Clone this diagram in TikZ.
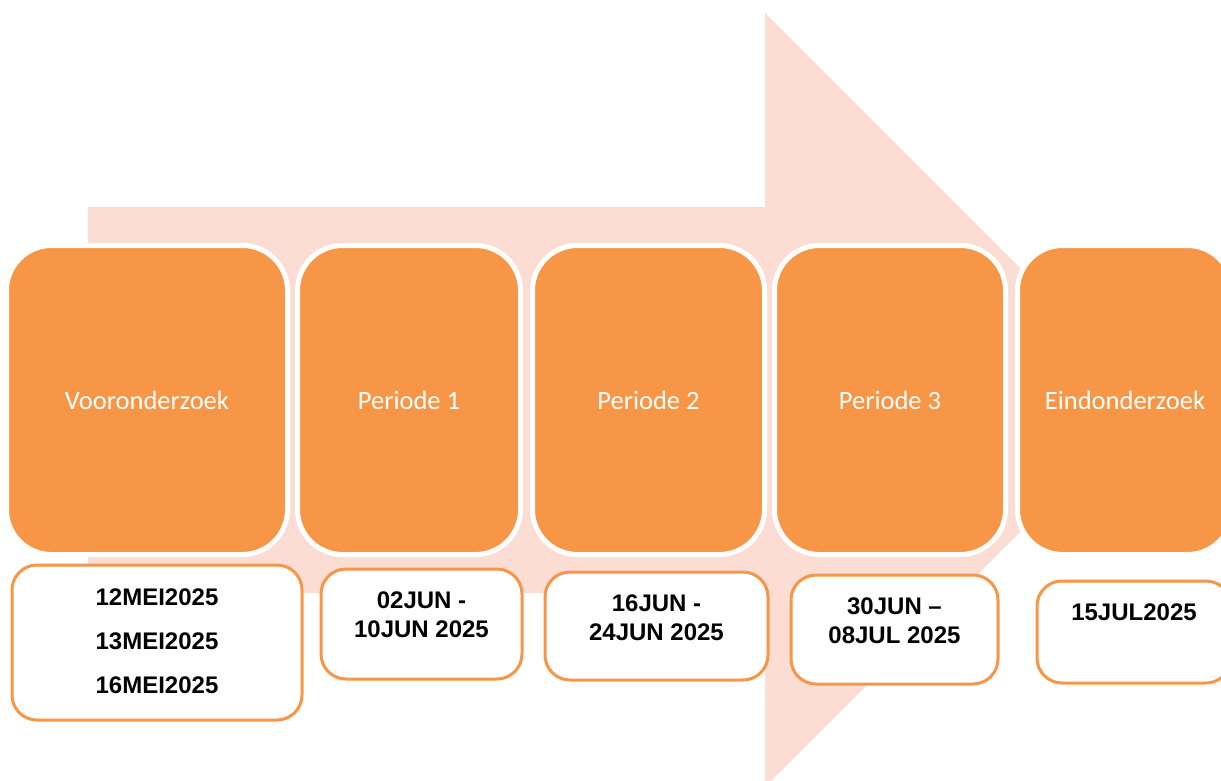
\documentclass[tikz,border=0pt]{standalone}
\usepackage{fontspec}
\newfontfamily\phasefont{Carlito}
\newfontfamily\datefont{Liberation Sans}
\usepackage{tikz}
\usetikzlibrary{positioning}

\definecolor{phaseorange}{HTML}{F79646}
\definecolor{arrowpink}{HTML}{FCDDD3}

\begin{document}
\begin{tikzpicture}[
            x=1pt, y=-1pt,
            phase node/.style={rectangle,rounded corners=45pt,fill=phaseorange,draw=white,line width=5pt,
                text=white,font=\phasefont\fontsize{26.5}{32}\selectfont,inner sep=0pt,minimum height=309pt},
            date node/.style={rectangle,rounded corners=25pt,fill=white,draw=phaseorange,line width=3pt,inner sep=0pt},
            date text/.style={align=center,inner sep=0pt,font=\datefont\bfseries\fontsize{24}{29}\selectfont},
            ]
            \useasboundingbox (0,0) rectangle (1221,780);
            \clip (0,0) rectangle (1221,780);

            % big arrow behind
            \fill[arrowpink] (88,207) -- (765,207) -- (765,13) -- (1152,400) -- (765,787) -- (765,593) -- (88,593) -- cycle;

            \node[phase node, minimum width=281pt] (1) at (147,400) {Vooronderzoek};
            \node[phase node, minimum width=223pt] (2) at (409,400) {Periode 1};
            \node[phase node, minimum width=232pt] (3) at (648.5,400) {Periode 2};
            \node[phase node, minimum width=231pt] (4) at (890,400) {Periode 3};
            \node[phase node, minimum width=215pt] (5) at (1125,400) {Eindonderzoek};

            \node[date node, minimum width=290pt, minimum height=155pt] (d1) at (157,642.5) {};
            \node[date node, minimum width=201pt, minimum height=110pt] (d2) at (421.5,624) {};
            \node[date node, minimum width=223pt, minimum height=108pt] (d3) at (656.5,626) {};
            \node[date node, minimum width=207pt, minimum height=109pt] (d4) at (894.5,629.5) {};
            \node[date node, minimum width=194pt, minimum height=102pt] (d5) at (1134,632) {};

            \node[date text, below=25pt of d1.north] (t1) {12MEI2025\\[15pt]13MEI2025\\[15pt]16MEI2025};
            \node[date text, below=24pt of d2.north] (t2) {02JUN -\\10JUN 2025};
            \node[date text, below=24pt of d3.north] (t3) {16JUN -\\24JUN 2025};
            \node[date text, below=24pt of d4.north] (t4) {30JUN –\\08JUL 2025};
            \node[date text, below=24pt of d5.north] (t5) {15JUL2025};
        \end{tikzpicture}
\end{document}
